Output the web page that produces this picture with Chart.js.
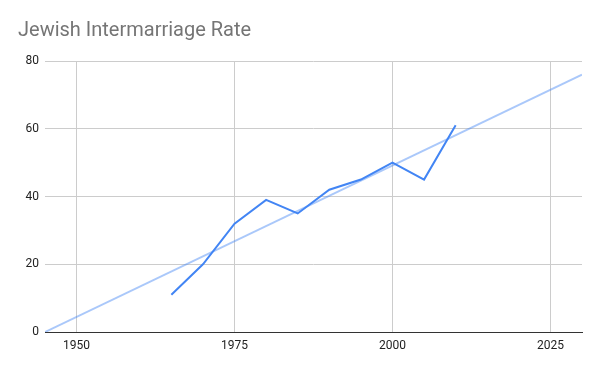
<!DOCTYPE html>
<html>
<head>
<meta charset="utf-8">
<script src="https://cdn.jsdelivr.net/npm/chart.js@4"></script>
<style>
  html, body { margin: 0; padding: 0; background: #fff; }
  #wrap { width: 600px; height: 371px; }
</style>
</head>
<body>
<div id="wrap"><canvas id="chart" width="600" height="371"></canvas></div>
<script>
// values
const years = [1965, 1970, 1975, 1980, 1985, 1990, 1995, 2000, 2005, 2010];
const rates = [11, 20, 32, 39, 35, 42, 45, 50, 45, 61];

// trendline end points as drawn
const trendYears = [1945, 2030];
const trendRates = [0, 76];

const xTicks = [1950, 1975, 2000, 2025];
const yTicks = [0, 20, 40, 60, 80];

const ctx = document.getElementById('chart');

new Chart(ctx, {
    type: 'line',
    data: {
        datasets: [{
            label: 'Rate',
            data: years.map((y, i) => ({ x: y, y: rates[i] })),
            borderColor: '#4285f4',
            borderWidth: 2,
            pointRadius: 0,
            tension: 0,
            order: 1
        }, {
            label: 'Trend',
            data: trendYears.map((y, i) => ({ x: y, y: trendRates[i] })),
            borderColor: 'rgba(66,133,244,0.45)',
            borderWidth: 2,
            pointRadius: 0,
            order: 2
        }]
    },
    options: {
        responsive: false,
        animation: false,
        layout: {
            padding: { left: 18, right: 18, top: 0, bottom: 0 }
        },
        scales: {
            x: {
                type: 'linear',
                min: trendYears[0],
                max: trendYears[1],
                afterBuildTicks: (scale) => {
                    scale.ticks = xTicks.map(v => ({ value: v }))
                },
                afterFit: (scale) => { scale.height = 39 },
                ticks: {
                    color: '#222',
                    padding: 7,
                    maxRotation: 0,
                    font: { family: 'Roboto', size: 12 },
                    callback: (v) => String(v)
                },
                grid: {
                    color: '#cccccc',
                    drawTicks: false
                },
                border: { color: '#333333', width: 1 }
            },
            y: {
                min: 0,
                max: 80,
                afterBuildTicks: (scale) => {
                    scale.ticks = yTicks.map(v => ({ value: v }))
                },
                afterFit: (scale) => { scale.width = 27 },
                ticks: {
                    color: '#222',
                    padding: 6,
                    font: { family: 'Roboto', size: 12 }
                },
                grid: {
                    color: (c) => c.tick && c.tick.value === 0 ? 'rgba(0,0,0,0)' : '#cccccc',
                    drawTicks: false
                },
                border: { display: false }
            }
        },
        plugins: {
            legend: { display: false },
            tooltip: { enabled: false },
            title: {
                display: true,
                text: 'Jewish Intermarriage Rate',
                align: 'start',
                color: '#757575',
                font: { family: 'Roboto', size: 20, weight: 'normal' },
                padding: { top: 19, bottom: 18 }
            }
        }
    }
});
</script>
</body>
</html>
